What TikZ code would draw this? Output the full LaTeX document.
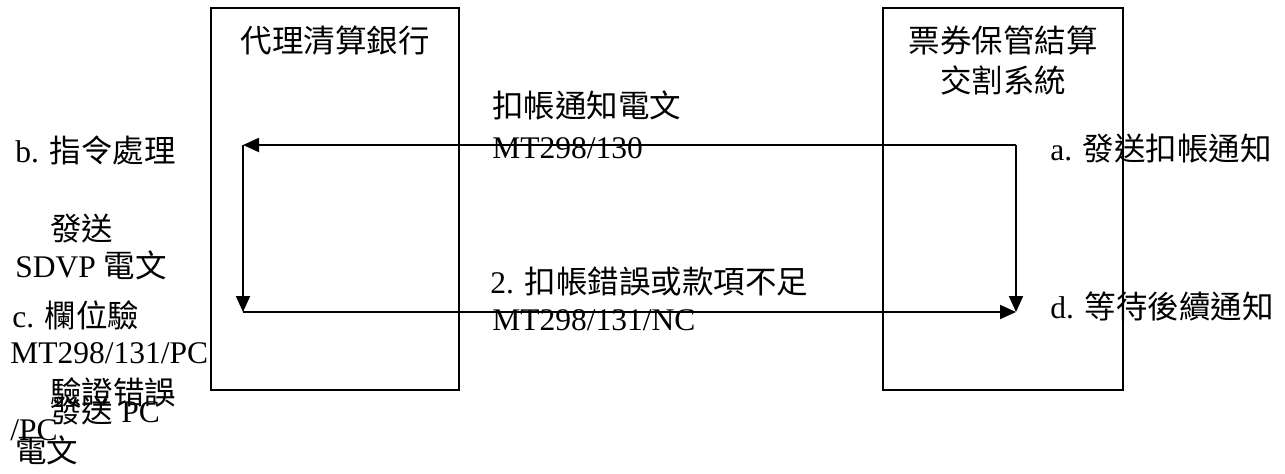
\documentclass[tikz,border=0pt]{standalone}
\usepackage{fontspec}
\setmainfont{Liberation Serif}
\newfontfamily\cjk{Noto Sans CJK TC}
\usetikzlibrary{arrows.meta}

\begin{document}
\begin{tikzpicture}[x=0.5pt,y=-0.5pt,font=\fontsize{15.75}{19}\selectfont,
  txt/.style={anchor=base west,inner sep=0pt},
  ttl/.style={anchor=base,inner sep=0pt},
  box/.style={draw,line width=1pt,inner sep=0pt,minimum width=#1,minimum height=191pt},
  flow/.style={line width=1pt,-{Triangle[length=8pt,width=7pt]}}]
  \useasboundingbox (0,0) rectangle (1285,473);
  % the two parties
  \node[box=124pt] (bank) at (335,199) {};
  \node[box=120pt] (sys) at (1003,199) {};
  \node[ttl] (bankname) at (335,52) {\cjk 代理清算銀行};
  \node[ttl] (sysname1) at (1003,52) {\cjk 票券保管結算};
  \node[ttl] (sysname2) at (1003,92) {\cjk 交割系統};
  % corners of the message loop
  \coordinate (tr) at (1016,145);
  \coordinate (tl) at (243,145);
  \coordinate (bl) at (243,312);
  \coordinate (br) at (1016,312);
  \draw[flow] (tr) -- (tl);
  \draw[flow] (tl) -- (bl);
  \draw[flow] (bl) -- (br);
  \draw[flow] (tr) -- (br);
  % message labels
  \node[txt] (msg1) at (492,117) {\cjk 扣帳通知電文};
  \node[txt] (msg1b) at (492,158) {MT298/130};
  \node[txt] (msg2) at (490,293) {2. {\cjk 扣帳錯誤或款項不足}};
  \node[txt] (msg2b) at (492,330) {MT298/131/NC};
  % steps
  \node[txt] (stepa) at (1050,160) {a. {\cjk 發送扣帳通知}};
  \node[txt] (stepd) at (1050,318) {d. {\cjk 等待後續通知}};
  \node[txt] (stepb) at (15,162) {b. {\cjk 指令處理}};
  \node[txt] (sdvp1) at (50,240) {\cjk 發送};
  \node[txt] (sdvp2) at (15,277) {SDVP {\cjk 電文}};
  \node[txt] (stepc) at (12,327) {c. {\cjk 欄位驗}};
  \node[txt] (pc1) at (10,363) {MT298/131/PC};
  \node[txt] (pc2) at (50,404) {\cjk 驗證错誤};
  \node[txt] (pc3) at (50,422) {{\cjk 發送} PC};
  \node[txt] (pc4) at (10,440) {/PC};
  \node[txt] (pc5) at (15,462) {\cjk 電文};
\end{tikzpicture}
\end{document}
